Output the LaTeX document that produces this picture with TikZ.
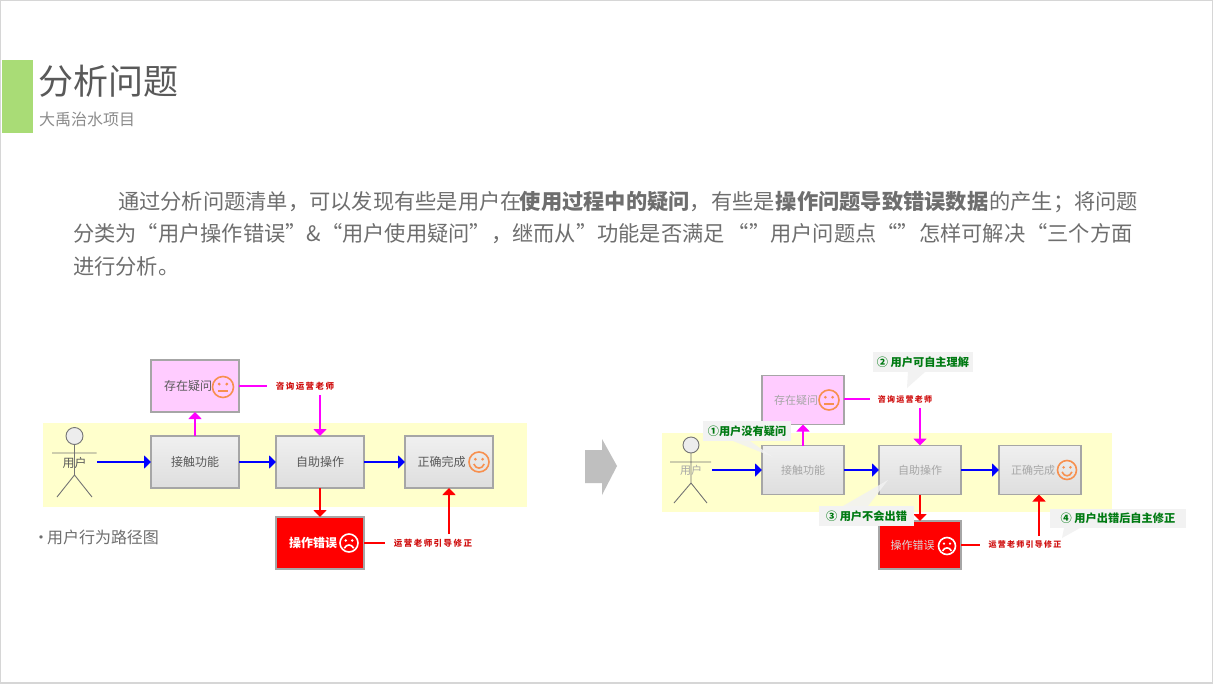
\documentclass[tikz,border=0pt]{standalone}
\usepackage{fontspec}
\setmainfont{Noto Sans CJK SC}
\usetikzlibrary{arrows.meta,calc}
\definecolor{ink}{HTML}{595959}
\definecolor{para}{HTML}{6E6E6E}
\definecolor{band}{HTML}{FFFFCC}
\definecolor{orangeface}{HTML}{F7904F}
\definecolor{edge}{HTML}{A6A6A6}
\definecolor{note}{HTML}{F2F2F2}
\definecolor{okgreen}{HTML}{007A12}
\definecolor{pinkbox}{HTML}{FFCCFF}
\definecolor{mag}{HTML}{FF00FF}
\definecolor{hintred}{HTML}{D01010}
\newcommand{\fs}[1]{\fontsize{#1}{#1}\selectfont}
\tikzset{
  base/.style={inner sep=0pt,outer sep=0pt},
  stepbox/.style={base,draw=edge,line width=1.2pt,top color=white!94!black,bottom color=white!87!black,text=ink,align=center},
  lbox/.style={stepbox,minimum width=88pt,minimum height=52pt,font=\fs{12}},
  rbox/.style={stepbox,minimum width=82pt,minimum height=49pt,font=\fs{11},text=edge},
  ask/.style={top color=pinkbox,bottom color=pinkbox},
  wrong/.style={top color=red,bottom color=red},
  hint/.style={base,text=hintred,font=\bfseries\fs{8.5}\addfontfeature{LetterSpace=17},minimum height=18pt},
  hintr/.style={base,text=hintred,font=\bfseries\fs{8}\addfontfeature{LetterSpace=16},minimum height=18pt},
  fl/.style={line width=2pt,-{Triangle[width=13pt,length=7pt]}},
  pl/.style={line width=2pt},
  notebox/.style={base,fill=note,text=okgreen,font=\bfseries\fs{11.2},minimum height=20pt},
  actorline/.style={draw=edge!70!black,line width=.9pt},
  plain/.style={base,text=para,anchor=west}
}
\newcommand{\facepic}[5]{% x,y,r,color,type(1 happy,0 neutral,-1 sad)
  \begin{scope}[shift={(#1,#2)},x=#3pt,y=-#3pt,draw=#4,line width=1.6pt]
    \draw (0,0) circle[radius=1];
    \fill[#4] (-.36,-.28) circle[radius=.15] (.36,-.28) circle[radius=.15];
    \ifnum#5=1 \draw (-.52,.2) .. controls (-.3,.75) and (.3,.75) .. (.52,.2);\fi
    \ifnum#5=0 \draw (-.48,.38) -- (.48,.38);\fi
    \ifnum#5=-1 \draw (-.52,.58) .. controls (-.3,.1) and (.3,.1) .. (.52,.58);\fi
  \end{scope}}
\begin{document}
\begin{tikzpicture}[x=1pt,y=-1pt]
\useasboundingbox (0,0) rectangle (1213,683);
\fill[white] (0,0) rectangle (1213,683);
\draw[white!84!black,line width=2pt] (0,0) rectangle (1213,683);
% header
\fill[fill={rgb,255:red,169;green,220;blue,118}] (2,60) rectangle (33,133);
\node[plain,text=ink,font=\fs{35}] (title) at (38,81) {分析问题};
\node[plain,text=white!55!black,font=\fs{16}] (sub) at (39,119) {大禹治水项目};
% paragraph
\node[plain,font=\fs{21.25}] (l1) at (118,202) {通过分析问题清单，可以发现有些是用户在\hspace{-2pt}\textbf{使用过程中的疑问}，有些是\hspace{1pt}\textbf{操作问题导致错误数据}\hspace{1pt}的产生；将问题};
\node[plain,font=\fs{21.25}] (l2) at (73,234) {分类为“用户操作错误”\&“用户使用疑问”，继而从”功能是否满足\hspace{3pt}“”用户问题点“”怎样可解决\hspace{1pt}“三个方面};
\node[plain,font=\fs{21.25}] (l3) at (73,266) {进行分析。};
% ---------- left diagram
\fill[band] (43,423) rectangle (527,507);
\draw[actorline,fill=white!93!black] (74.5,436) circle[radius=8.5];
\draw[actorline] (52,453) -- (96.5,453) (74.5,444.5) -- (74.5,475) -- (57,497) (74.5,475) -- (92,497);
\node[base,text=ink,font=\fs{12}] (ua) at (74.5,463) {用户};
\coordinate (uaout) at (97,462);
\node[lbox] (a1) at (195,462) {接触功能};
\node[lbox] (a2) at (320,462) {自助操作};
\node[lbox] (a3) at (449,462) {正确完成\hspace{15pt}};
\node[lbox,ask] (aq) at (195,386) {存在疑问\hspace{14pt}};
\node[lbox,wrong,text=white,font=\bfseries\fs{12}] (ae) at (320,543) {操作错误\hspace{14pt}};
\facepic{223}{387}{10.5}{orangeface}{0}
\facepic{479}{462}{10}{orangeface}{1}
\facepic{349}{543}{9}{white}{-1}
\node[hint] (ah1) at (305,386) {咨询运营老师};
\node[hint] (ah2) at (433,543) {运营老师引导修正};
\draw[fl,blue] (uaout) -- (a1.west |- uaout);
\draw[fl,blue] (a1) -- (a2);
\draw[fl,blue] (a2) -- (a3);
\draw[fl,mag] (a1.north) -- (aq.south);
\draw[pl,mag] (aq.east) -- ([xshift=-9pt]ah1.west);
\draw[fl,mag] (ah1.south -| a2.north) -- (a2.north);
\draw[fl,red] (a2.south) -- (ae.north);
\draw[pl,red] (ae.east) -- ([xshift=-9pt]ah2.west);
\draw[fl,red] (ah2.north -| a3.south) -- (a3.south);
\node[plain,font=\fs{16}] (cap) at (33,537) {·\hspace{-2pt}用户行为路径图};
% big arrow
\fill[white!75!black] (585,450) -- (602,450) -- (602,439) -- (617,466) -- (602,495) -- (602,483) -- (585,483) -- cycle;
% ---------- right diagram
\fill[band] (662,433) rectangle (1112,512);
\draw[actorline,fill=white!93!black] (691,445) circle[radius=8];
\draw[actorline] (670,462) -- (711,462) (691,453) -- (691,483) -- (674,503) (691,483) -- (707,503);
\node[base,text=edge,font=\fs{11}] (ub) at (691,470) {用户};
\coordinate (ubout) at (712,470);
\node[rbox] (b1) at (803,470) {接触功能};
\node[rbox] (b2) at (920,470) {自助操作};
\node[rbox] (b3) at (1040,470) {正确完成\hspace{14pt}};
\node[rbox,ask] (bq) at (803,400) {存在疑问\hspace{14pt}};
\node[rbox,wrong,text=white!85!black,minimum height=48pt] (be) at (920,545) {操作错误\hspace{15pt}};
\facepic{829}{400}{10}{orangeface}{0}
\facepic{1067}{470}{9.5}{orangeface}{1}
\facepic{947}{546}{8.5}{white}{-1}
\node[hintr] (bh1) at (905,399) {咨询运营老师};
\node[hintr] (bh2) at (1025,545) {运营老师引导修正};
\draw[fl,blue] (ubout) -- (b1.west |- ubout);
\draw[fl,blue] (b1) -- (b2);
\draw[fl,blue] (b2) -- (b3);
\draw[fl,mag] (b1.north) -- (bq.south);
\draw[pl,mag] (bq.east |- bh1.west) -- ([xshift=-8pt]bh1.west);
\draw[fl,mag] (bh1.south -| b2.north) -- (b2.north);
\draw[fl,red] (b2.south) -- (be.north);
\draw[pl,red] (be.east) -- ([xshift=-9pt]bh2.west);
\draw[fl,red] ([xshift=-1pt]bh2.north -| b3.south) -- ([xshift=-1pt]b3.south);
% callouts
\fill[note,opacity=.85] (733,441) -- (773,457) -- (750,441) -- cycle;
\node[notebox,minimum width=88pt] (n1) at (747,431) {①用户没有疑问};
\fill[note,opacity=.95] (908,372) -- (907,388) -- (925,372) -- cycle;
\node[notebox,minimum width=100pt] (n2) at (923,362) {② 用户可自主理解};
\fill[note,opacity=.85] (843,506) -- (888,480) -- (868,506) -- cycle;
\node[notebox,minimum width=95pt] (n3) at (866.5,516) {③ 用户不会出错};
\fill[note,opacity=.95] (1062,538) -- (1080,528) -- (1064,528) -- cycle;
\node[notebox,minimum width=136pt,minimum height=19pt] (n4) at (1118,518.5) {④ 用户出错后自主修正};
\end{tikzpicture}
\end{document}
